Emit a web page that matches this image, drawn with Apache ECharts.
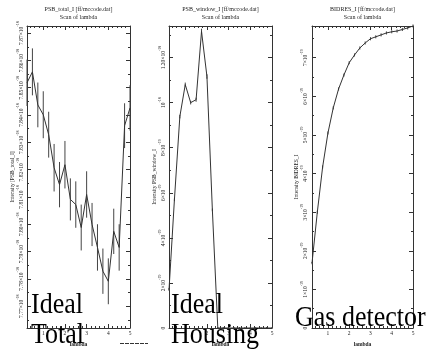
<!DOCTYPE html>
<html>
<head>
<meta charset="utf-8">
<script src="https://cdn.jsdelivr.net/npm/echarts@6/dist/echarts.min.js"></script>
<style>html,body{margin:0;padding:0;background:#fff}#c{width:440px;height:354px}</style>
</head>
<body>
<div id="c"></div>
<script>
// ---- data ----
const lambda = [0.25,0.5,0.75,1,1.25,1.5,1.75,2,2.25,2.5,2.75,3,3.25,3.5,3.75,4,4.25,4.5,4.75,5];
// PSB_total_I, units of 1e-18
const totalI = [7.8518,7.8558,7.8437,7.8401,7.8328,7.8207,7.8145,7.8218,7.8091,7.8072,7.7988,7.8109,7.7999,7.7915,7.7828,7.7791,7.7974,7.7915,7.8361,7.8426];
const totalErr = [0.0085,0.0086,0.0082,0.0086,0.0084,0.0087,0.0083,0.0087,0.0077,0.0085,0.0084,0.0085,0.0079,0.0085,0.0083,0.0084,0.0083,0.0085,0.0082,0.0083];
// PSB_window_I, units of 1e-18
const windowI = [0.169,0.569,0.938,1.08,1.0,1.013,1.316,1.116,0.524,0,0,0,0,0,0,0,0,0,0,0];
const windowErr = [0.004,0.006,0.008,0.009,0.008,0.009,0.012,0.01,0.006,0,0,0,0,0,0,0,0,0,0,0];
// BIDRES_I, units of 1e-19
const bidresI = [1.68,3.0,4.17,5.05,5.70,6.19,6.55,6.87,7.07,7.25,7.38,7.49,7.54,7.59,7.64,7.67,7.69,7.73,7.77,7.82];
const bidresErr = [0.03,0.04,0.04,0.04,0.04,0.04,0.04,0.04,0.04,0.04,0.04,0.04,0.04,0.04,0.04,0.04,0.04,0.04,0.04,0.04];

const xTicks = [1,2,3,4,5];
const xTickLabels = ['1','2','3','4','5'];
const xMinor = [0.4,0.6,0.8,1.2,1.4,1.6,1.8,2.2,2.4,2.6,2.8,3.2,3.4,3.6,3.8,4.2,4.4,4.6,4.8];

const totalTicks = [7.77,7.78,7.79,7.80,7.81,7.82,7.83,7.84,7.85,7.86,7.87];
const totalTickLabels = ['7.77×10^-18','7.78×10^-18','7.79×10^-18','7.80×10^-18','7.81×10^-18','7.82×10^-18','7.83×10^-18','7.84×10^-18','7.85×10^-18','7.86×10^-18','7.87×10^-18'];
const totalMinor = [7.765,7.775,7.785,7.795,7.805,7.815,7.825,7.835,7.845,7.855,7.865];

const windowTicks = [0,0.2,0.4,0.6,0.8,1.0,1.2];
const windowTickLabels = ['0','2×10^-19','4×10^-19','6×10^-19','8×10^-19','10^-18','1.20×10^-18'];
const windowMinor = [0.1,0.3,0.5,0.7,0.9,1.1,1.3];

const bidresTicks = [0,1,2,3,4,5,6,7];
const bidresTickLabels = ['0','1×10^-19','2×10^-19','3×10^-19','4×10^-19','5×10^-19','6×10^-19','7×10^-19'];
const bidresMinor = [0.5,1.5,2.5,3.5,4.5,5.5,6.5,7.5];

const panels = [
  {title:'PSB_total_I [ff/mccode.dat]', yName:'Intensity [PSB_total_I]', vals:totalI, errs:totalErr,
   yMin:7.762, yMax:7.8726, ticks:totalTicks, labels:totalTickLabels, minor:totalMinor,
   left:27, width:103, nameGap:9, labelMargin:2},
  {title:'PSB_window_I [ff/mccode.dat]', yName:'Intensity PSB_window_I', vals:windowI, errs:windowErr,
   yMin:0, yMax:1.34, ticks:windowTicks, labels:windowTickLabels, minor:windowMinor,
   left:169, width:103, nameGap:6, labelMargin:2},
  {title:'BIDRES_I [ff/mccode.dat]', yName:'Intensity BIDRES_I', vals:bidresI, errs:bidresErr,
   yMin:0, yMax:7.82, ticks:bidresTicks, labels:bidresTickLabels, minor:bidresMinor,
   left:312, width:101, nameGap:11, labelMargin:3}
];

const TOP = 26, HEIGHT = 302;
const AX = '#333';
const FONT = '"Liberation Serif", "DejaVu Serif", serif';

function richLabel(s) {
  const k = s.indexOf('^');
  if (k < 0) return '{b|' + s + '}';
  return '{b|' + s.slice(0, k) + '}{s|' + s.slice(k + 1) + '}';
}
const rich = {
  b: {fontSize: 5.5, fontFamily: FONT, color: '#222', lineHeight: 9, verticalAlign: 'bottom'},
  s: {fontSize: 4, fontFamily: FONT, color: '#222', lineHeight: 9, verticalAlign: 'top'}
};

const grid = [], xAxis = [], yAxis = [], series = [], graphic = [];

panels.forEach((p, g) => {
  grid.push({left: p.left, top: TOP, width: p.width, height: HEIGHT, containLabel: false});
  const xmin = 0.25, xmax = 5;
  const baseX = {type: 'value', gridIndex: g, min: xmin, max: xmax, splitLine: {show: false},
    axisLine: {show: false, onZero: false}, axisLabel: {show: false}};
  // bottom main
  xAxis.push(Object.assign({}, baseX, {position: 'bottom',
    axisLine: {show: true, onZero: false, lineStyle: {color: AX, width: 1}},
    axisTick: {show: true, inside: true, length: 4, customValues: xTicks, lineStyle: {color: AX}},
    axisLabel: {show: true, customValues: xTicks, margin: 3, fontSize: 5.5, fontFamily: FONT, color: '#222',
      formatter: v => xTickLabels[xTicks.indexOf(v)]},
    name: 'lambda', nameLocation: 'middle', nameGap: 11,
    nameTextStyle: {fontSize: 5.5, fontFamily: FONT, color: '#222', fontWeight: 'bold'}}));
  xAxis.push(Object.assign({}, baseX, {position: 'bottom',
    axisTick: {show: true, inside: true, length: 2, customValues: xMinor, lineStyle: {color: AX}}}));
  xAxis.push(Object.assign({}, baseX, {position: 'top',
    axisLine: {show: true, onZero: false, lineStyle: {color: AX, width: 1}},
    axisTick: {show: true, inside: true, length: 4, customValues: xTicks, lineStyle: {color: AX}}}));
  xAxis.push(Object.assign({}, baseX, {position: 'top',
    axisTick: {show: true, inside: true, length: 2, customValues: xMinor, lineStyle: {color: AX}}}));

  const baseY = {type: 'value', gridIndex: g, min: p.yMin, max: p.yMax, splitLine: {show: false},
    axisLine: {show: false, onZero: false}, axisLabel: {show: false}};
  yAxis.push(Object.assign({}, baseY, {position: 'left',
    axisLine: {show: true, onZero: false, lineStyle: {color: AX, width: 1}},
    axisTick: {show: true, inside: true, length: 4, customValues: p.ticks, lineStyle: {color: AX}},
    axisLabel: {show: true, customValues: p.ticks, rotate: 90, margin: p.labelMargin,
      formatter: v => { const i = p.ticks.findIndex(t => Math.abs(t - v) < 1e-9); return i < 0 ? '' : richLabel(p.labels[i]); },
      rich: rich},
    name: p.yName, nameLocation: 'middle', nameRotate: 90, nameGap: p.nameGap,
    nameTextStyle: {fontSize: 5.5, fontFamily: FONT, color: '#222'}}));
  yAxis.push(Object.assign({}, baseY, {position: 'left',
    axisTick: {show: true, inside: true, length: 2, customValues: p.minor, lineStyle: {color: AX}}}));
  yAxis.push(Object.assign({}, baseY, {position: 'right',
    axisLine: {show: true, onZero: false, lineStyle: {color: AX, width: 1}},
    axisTick: {show: true, inside: true, length: 4, customValues: p.ticks, lineStyle: {color: AX}}}));
  yAxis.push(Object.assign({}, baseY, {position: 'right',
    axisTick: {show: true, inside: true, length: 2, customValues: p.minor, lineStyle: {color: AX}}}));

  const xi = g * 4, yi = g * 4;
  series.push({type: 'line', xAxisIndex: xi, yAxisIndex: yi, symbol: 'none', animation: false,
    data: lambda.map((x, i) => [x, p.vals[i]]), lineStyle: {color: '#333', width: 1}, z: 4});
  series.push({type: 'custom', xAxisIndex: xi, yAxisIndex: yi, animation: false, silent: true, z: 3,
    data: lambda.map((x, i) => [x, p.vals[i] - p.errs[i], p.vals[i] + p.errs[i]]),
    renderItem: (params, api) => {
      const a = api.coord([api.value(0), api.value(1)]);
      const b = api.coord([api.value(0), api.value(2)]);
      return {type: 'line', shape: {x1: a[0], y1: a[1], x2: b[0], y2: b[1] - (Math.abs(b[1]-a[1]) < 2 ? 1 : 0)},
        style: {stroke: '#444', lineWidth: 1}};
    }});

  const cx = p.left + p.width / 2;
  graphic.push({type: 'text', x: cx, y: 6, style: {text: p.title, font: '6px ' + FONT, fill: '#222', align: 'center', verticalAlign: 'top'}});
  graphic.push({type: 'text', x: cx, y: 14, style: {text: 'Scan of lambda', font: '6px ' + FONT, fill: '#222', align: 'center', verticalAlign: 'top'}});
});

const BIG = '26px ' + FONT;
function big(text, x, baseline) {
  graphic.push({type: 'text', x: x, y: baseline, scaleY: 1.12, z: 100,
    style: {text: text, font: BIG, fill: '#000', align: 'left', verticalAlign: 'bottom'}});
}
big('Ideal', 31, 320);
big('Total', 31, 350);
big('Ideal', 171, 320);
big('Housing', 171, 350);
big('Gas detector', 295, 333);
graphic.push({type: 'line', shape: {x1: 120, y1: 343.5, x2: 148, y2: 343.5},
  style: {stroke: '#333', lineWidth: 1, lineDash: [4, 1]}});

const chart = echarts.init(document.getElementById('c'), null, {renderer: 'canvas'});
chart.setOption({backgroundColor: '#fff', animation: false, grid, xAxis, yAxis, series, graphic});
</script>
</body>
</html>
